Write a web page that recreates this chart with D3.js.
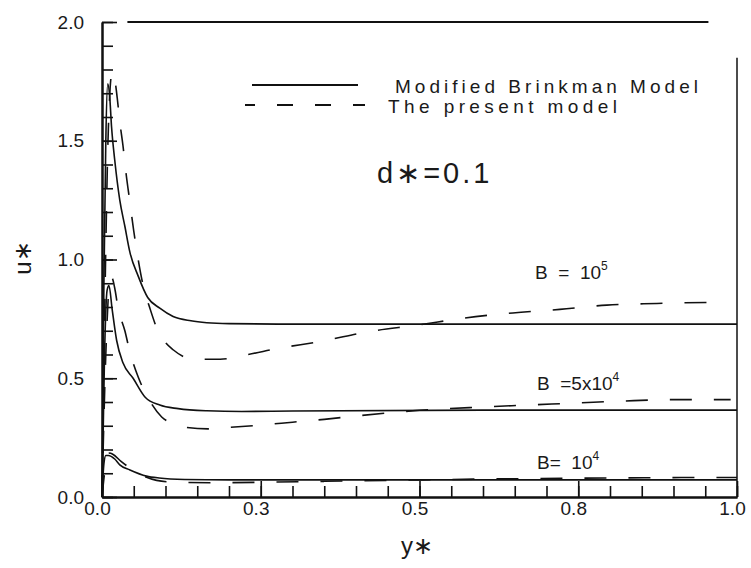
<!DOCTYPE html>
<html>
<head>
<meta charset="utf-8">
<script src="https://cdn.jsdelivr.net/npm/d3@7"></script>
<style>
  body { margin: 0; background: #fff; }
  svg { display: block; }
  text { font-family: "Liberation Sans", Arial, sans-serif; fill: #1a1a1a; }
</style>
</head>
<body>
<script>
// y* positions and u* values, one pair per curve
var brinkman1e5Y = [0, 0.003, 0.006, 0.009, 0.012, 0.015, 0.02, 0.028, 0.036, 0.044, 0.057, 0.072, 0.091, 0.112, 0.14, 0.165, 0.2, 0.3, 0.5, 0.75, 1.0];
var brinkman1e5U = [0, 0.9, 1.5, 1.74, 1.69, 1.56, 1.42, 1.25, 1.14, 1.03, 0.93, 0.84, 0.795, 0.76, 0.742, 0.734, 0.73, 0.728, 0.728, 0.728, 0.728];

var present1e5Y = [0, 0.005, 0.01, 0.016, 0.02, 0.024, 0.028, 0.033, 0.038, 0.044, 0.05, 0.057, 0.064, 0.076, 0.088, 0.1, 0.112, 0.143, 0.186, 0.23, 0.276, 0.348, 0.417, 0.5, 0.569, 0.647, 0.721, 0.795, 0.874, 0.97];
var present1e5U = [0, 0.9, 1.55, 1.79, 1.76, 1.68, 1.58, 1.48, 1.36, 1.24, 1.12, 1.0, 0.9, 0.79, 0.70, 0.65, 0.62, 0.58, 0.58, 0.6, 0.625, 0.657, 0.695, 0.725, 0.753, 0.775, 0.79, 0.808, 0.815, 0.82];

var brinkman5e4Y = [0, 0.004, 0.008, 0.011, 0.016, 0.023, 0.033, 0.049, 0.068, 0.091, 0.12, 0.165, 0.22, 0.3, 0.6, 1.0];
var brinkman5e4U = [0, 0.6, 0.87, 0.89, 0.79, 0.66, 0.565, 0.5, 0.42, 0.387, 0.372, 0.363, 0.36, 0.362, 0.366, 0.366];

var present5e4Y = [0, 0.006, 0.012, 0.016, 0.02, 0.025, 0.036, 0.044, 0.057, 0.072, 0.094, 0.11, 0.128, 0.167, 0.2, 0.25, 0.3, 0.35, 0.4, 0.45, 0.5, 0.6, 0.67, 0.75, 0.82, 0.9, 0.99];
var present5e4U = [0, 0.6, 0.9, 0.92, 0.88, 0.8, 0.7, 0.61, 0.505, 0.42, 0.337, 0.31, 0.295, 0.287, 0.293, 0.303, 0.315, 0.327, 0.341, 0.354, 0.365, 0.379, 0.387, 0.396, 0.404, 0.41, 0.41];

var brinkman1e4Y = [0, 0.003, 0.006, 0.01, 0.02, 0.028, 0.044, 0.07, 0.09, 0.13, 0.2, 1.0];
var brinkman1e4U = [0, 0.14, 0.175, 0.175, 0.16, 0.135, 0.114, 0.088, 0.08, 0.074, 0.072, 0.072];

var present1e4Y = [0, 0.005, 0.012, 0.017, 0.03, 0.044, 0.06, 0.086, 0.118, 0.18, 0.25, 0.35, 0.5, 0.65, 0.8, 0.95, 1.0];
var present1e4U = [0, 0.12, 0.185, 0.18, 0.15, 0.122, 0.095, 0.07, 0.062, 0.06, 0.062, 0.066, 0.072, 0.077, 0.08, 0.082, 0.082];

var xMajorTicks = [0, 0.25, 0.5, 0.75, 1.0];
var xTickLabels = ["0.0", "0.3", "0.5", "0.8", "1.0"];
var xMinorTicks = d3.range(0, 21).map(function(i) { return i * 0.05; });
var yMajorTicks = [0, 0.5, 1.0, 1.5, 2.0];
var yTickLabels = ["0.0", "0.5", "1.0", "1.5", "2.0"];
var yMinorTicks = d3.range(0, 21).map(function(i) { return i * 0.1; });

var legendLabels = ["Modified Brinkman Model", "The present model"];

var W = 751, H = 568;
var plotLeft = 102, plotRight = 737, plotTop = 22, plotBottom = 497;

var svg = d3.select("body").append("svg").attr("width", W).attr("height", H);

var x = d3.scaleLinear().domain([0, 1]).range([plotLeft, plotRight]);
var y = d3.scaleLinear().domain([0, 2]).range([plotBottom, plotTop]);

// minor ticks (inside, no labels)
svg.append("g").attr("transform", "translate(0," + plotBottom + ")")
  .call(d3.axisBottom(x).tickValues(xMinorTicks).tickSizeInner(-11).tickSizeOuter(0).tickFormat(""));
svg.append("g").attr("transform", "translate(" + plotLeft + ",0)")
  .call(d3.axisLeft(y).tickValues(yMinorTicks).tickSizeInner(-11).tickSizeOuter(0).tickFormat(""));

// major ticks with labels
var xAxis = svg.append("g").attr("transform", "translate(0," + plotBottom + ")")
  .call(d3.axisBottom(x).tickValues(xMajorTicks).tickSizeInner(-16).tickSizeOuter(0).tickPadding(5)
    .tickFormat(function(d, i) { return xTickLabels[i]; }));
xAxis.selectAll("text").attr("dx", -5);
svg.append("g").attr("transform", "translate(" + plotLeft + ",0)")
  .call(d3.axisLeft(y).tickValues(yMajorTicks).tickSizeInner(-15).tickSizeOuter(0).tickPadding(18)
    .tickFormat(function(d, i) { return yTickLabels[i]; }));

svg.selectAll(".domain").attr("stroke", "#111").attr("stroke-width", 2);
svg.selectAll(".tick line").attr("stroke", "#111").attr("stroke-width", 1.6);
svg.selectAll(".tick text").style("font-size", "19px").style("font-family", "Liberation Sans, Arial, sans-serif").attr("fill", "#1a1a1a");

// frame: top and right edges (partial as in the scan)
svg.append("line").attr("x1", x(0.04)).attr("x2", x(0.955)).attr("y1", y(2)).attr("y2", y(2))
  .attr("stroke", "#111").attr("stroke-width", 1.8);
svg.append("line").attr("x1", x(1)).attr("x2", x(1)).attr("y1", y(1.85)).attr("y2", y(0))
  .attr("stroke", "#111").attr("stroke-width", 1.5);

var line = d3.line().x(function(d) { return x(d[0]); }).y(function(d) { return y(d[1]); })
  .curve(d3.curveMonotoneX);

var curves = [
  { ys: brinkman1e5Y, us: brinkman1e5U, dashed: false },
  { ys: present1e5Y, us: present1e5U, dashed: true },
  { ys: brinkman5e4Y, us: brinkman5e4U, dashed: false },
  { ys: present5e4Y, us: present5e4U, dashed: true },
  { ys: brinkman1e4Y, us: brinkman1e4U, dashed: false },
  { ys: present1e4Y, us: present1e4U, dashed: true }
];

svg.selectAll("path.curve").data(curves).enter().append("path")
  .attr("class", "curve")
  .attr("d", function(c) { return line(c.ys.map(function(v, i) { return [v, c.us[i]]; })); })
  .attr("fill", "none")
  .attr("stroke", "#111")
  .attr("stroke-width", 1.6)
  .attr("stroke-dasharray", function(c) { return c.dashed ? "22,22" : null; });

// legend
svg.append("line").attr("x1", 252).attr("x2", 358).attr("y1", 85).attr("y2", 85)
  .attr("stroke", "#111").attr("stroke-width", 1.8);
svg.append("line").attr("x1", 245).attr("x2", 365).attr("y1", 105).attr("y2", 105)
  .attr("stroke", "#111").attr("stroke-width", 1.8).attr("stroke-dasharray", "16,22").attr("stroke-dashoffset", 6);
svg.append("text").attr("x", 395).attr("y", 93).style("font-size", "19px")
  .attr("textLength", 303).attr("lengthAdjust", "spacing").text(legendLabels[0]);
svg.append("text").attr("x", 388).attr("y", 113).style("font-size", "19px")
  .attr("textLength", 229).attr("lengthAdjust", "spacing").text(legendLabels[1]);

svg.append("text").attr("x", 377).attr("y", 183).style("font-size", "29px")
  .style("letter-spacing", "3px").text("d\u2217=0.1");

// B labels
function bLabel(xp, yp, base, sup) {
  var t = svg.append("text").attr("x", xp).attr("y", yp).style("font-size", "19px")
    .attr("xml:space", "preserve").style("white-space", "pre");
  t.append("tspan").text(base);
  t.append("tspan").text(sup).attr("dy", -9).style("font-size", "12px");
}
bLabel(535, 279, "B  =  10", "5");
bLabel(537, 390, "B  =5x10", "4");
bLabel(537, 469, "B=  10", "4");

// axis titles
svg.append("text").attr("x", 417).attr("y", 554).attr("text-anchor", "middle")
  .style("font-size", "24px").text("y\u2217");
svg.append("text").attr("transform", "translate(31,258) rotate(-90)").attr("text-anchor", "middle")
  .style("font-size", "24px").text("u\u2217");
</script>
</body>
</html>
